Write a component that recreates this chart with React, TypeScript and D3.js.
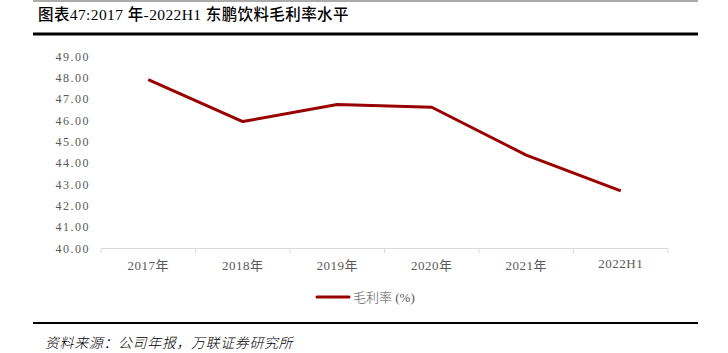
import React from "react";
import * as d3 from "d3";

const categories = ["2017年", "2018年", "2019年", "2020年", "2021年", "2022H1"];
const grossMargin = [47.92, 45.95, 46.75, 46.62, 44.38, 42.7];
const yTicks = [40, 41, 42, 43, 44, 45, 46, 47, 48, 49];

const W = 728;
const H = 353;
const serif = "'Liberation Serif', 'Noto Sans CJK SC', serif";

function labelY(c: string) {
  return c === "2022H1" ? 268 : 270;
}

export default function App() {
  const x = d3.scaleBand<string>().domain(categories).range([101, 668]);
  const y = d3.scaleLinear().domain([40, 49]).range([248.5, 56.5]);
  const line = d3
    .line<number>()
    .x((_, i) => (x(categories[i]) as number) + x.bandwidth() / 2)
    .y((d) => y(d));
  const tickXs = [...categories.map((c) => x(c) as number), x.range()[1]];

  return (
    <svg
      width={W}
      height={H}
      style={{ position: "absolute", left: 0, top: 0, background: "#fff" }}
    >
      <line x1={33} x2={698} y1={1} y2={1} stroke="#595959" strokeWidth={1.2} />
      <text
        x={38}
        y={20}
        fontFamily={serif}
        fontSize={15.5}
        fontWeight={500}
        letterSpacing={0.4}
        fill="#000"
      >
        图表47:2017 年-2022H1 东鹏饮料毛利率水平
      </text>
      <line x1={33} x2={698} y1={34} y2={34} stroke="#000" strokeWidth={3} />

      {yTicks.map((t) => (
        <text
          key={t}
          x={90}
          y={y(t) + 4}
          textAnchor="end"
          fontFamily={serif}
          fontSize={12}
          letterSpacing={1.5}
          fill="#595959"
        >
          {t.toFixed(2)}
        </text>
      ))}

      <line x1={101} x2={668} y1={248.5} y2={248.5} stroke="#d9d9d9" strokeWidth={1} />
      {tickXs.map((tx, i) => (
        <line key={i} x1={tx} x2={tx} y1={248.5} y2={253} stroke="#d9d9d9" strokeWidth={1} />
      ))}
      {categories.map((c) => (
        <text
          key={c}
          x={(x(c) as number) + x.bandwidth() / 2}
          y={labelY(c)}
          textAnchor="middle"
          fontFamily={serif}
          fontSize={13}
          letterSpacing={0.5}
          fill="#595959"
        >
          {c}
        </text>
      ))}

      <path
        d={line(grossMargin) as string}
        fill="none"
        stroke="#990000"
        strokeWidth={3}
        strokeLinejoin="round"
      />

      <line x1={317} x2={349} y1={297} y2={297} stroke="#990000" strokeWidth={3} strokeLinecap="round" />
      <text x={353} y={302} fontFamily={serif} fontSize={13} fontWeight={300} fill="#595959">
        毛利率 (%)
      </text>

      <line x1={33} x2={698} y1={323} y2={323} stroke="#000" strokeWidth={2} />
      <text
        x={45}
        y={348}
        fontFamily={serif}
        fontSize={14}
        fontStyle="italic"
        fontWeight={300}
        letterSpacing={0.6}
        fill="#000"
      >
        资料来源：公司年报，万联证券研究所
      </text>
    </svg>
  );
}
